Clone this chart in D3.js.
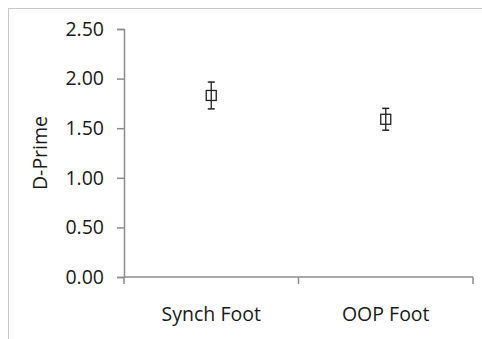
<!DOCTYPE html>
<html>
<head>
  <meta charset="utf-8">
  <style>
    body { margin: 0; background: #fff; }
    text { font-family: "Open Sans", Lato, sans-serif; fill: #1a1a1a; }
  </style>
</head>
<body>
  <script src="https://d3js.org/d3.v7.min.js"></script>
  <script>
    // chart data
    var categories = ["Synch Foot", "OOP Foot"];
    var means = [1.83, 1.59];
    var errors = [0.135, 0.11];
    var yTicks = [0, 0.5, 1, 1.5, 2, 2.5];

    var width = 482, height = 339;
    var margin = {top: 29, right: 9, bottom: 62, left: 124};
    var fontSize = "19.5px";

    var svg = d3.select("body").append("svg")
        .attr("width", width)
        .attr("height", height);

    // outer chart border
    svg.append("rect")
        .attr("x", 8.5).attr("y", 8.5)
        .attr("width", width).attr("height", height)
        .attr("fill", "none")
        .attr("stroke", "#c8c8c8");

    var g = svg.append("g")
        .attr("transform", "translate(" + margin.left + "," + margin.top + ")");

    var w = width - margin.left - margin.right;
    var h = height - margin.top - margin.bottom;

    var x = d3.scaleBand().domain(categories).range([0, w]);
    var y = d3.scaleLinear().domain([0, 2.5]).range([h, 0]);

    // y axis
    var yAxis = g.append("g")
        .call(d3.axisLeft(y).tickValues(yTicks).tickFormat(d3.format(".2f")).tickSize(7).tickPadding(13));
    yAxis.select(".domain").attr("stroke", "#8c8c8c").attr("stroke-width", 1.5);
    yAxis.selectAll(".tick line").attr("stroke", "#8c8c8c").attr("stroke-width", 1.5);
    yAxis.selectAll("text").style("font-size", fontSize).style("font-family", "'Open Sans', sans-serif").attr("fill", "#1a1a1a");

    // x axis with boundary ticks
    g.append("line")
        .attr("x1", 0).attr("x2", w)
        .attr("y1", h).attr("y2", h)
        .attr("stroke", "#8c8c8c").attr("stroke-width", 1.5);
    var bounds = [0].concat(categories.map(function(c) { return x(c) + x.bandwidth(); }));
    g.selectAll(".xtick").data(bounds).enter().append("line")
        .attr("x1", function(d) { return d; }).attr("x2", function(d) { return d; })
        .attr("y1", h).attr("y2", h + 7)
        .attr("stroke", "#8c8c8c").attr("stroke-width", 1.5);
    g.selectAll(".xlabel").data(categories).enter().append("text")
        .attr("x", function(d) { return x(d) + x.bandwidth() / 2; })
        .attr("y", h + 44)
        .attr("text-anchor", "middle")
        .style("font-size", fontSize)
        .text(function(d) { return d; });

    // y label
    g.append("text")
        .attr("transform", "rotate(-90)")
        .attr("x", -y(1.25))
        .attr("y", -77)
        .attr("text-anchor", "middle")
        .style("font-size", fontSize)
        .text("D-Prime");

    // error bars
    var pts = g.selectAll(".pt").data(categories).enter().append("g")
        .attr("transform", function(d) { return "translate(" + (x(d) + x.bandwidth() / 2) + ",0)"; });
    pts.append("line")
        .attr("y1", function(d, i) { return y(means[i] + errors[i]); })
        .attr("y2", function(d, i) { return y(means[i] - errors[i]); })
        .attr("stroke", "#222").attr("stroke-width", 1.3);
    pts.append("line")
        .attr("x1", -3.5).attr("x2", 3.5)
        .attr("y1", function(d, i) { return y(means[i] + errors[i]); })
        .attr("y2", function(d, i) { return y(means[i] + errors[i]); })
        .attr("stroke", "#222").attr("stroke-width", 1.5);
    pts.append("line")
        .attr("x1", -3.5).attr("x2", 3.5)
        .attr("y1", function(d, i) { return y(means[i] - errors[i]); })
        .attr("y2", function(d, i) { return y(means[i] - errors[i]); })
        .attr("stroke", "#222").attr("stroke-width", 1.5);
    pts.append("rect")
        .attr("x", -5)
        .attr("y", function(d, i) { return y(means[i]) - 5; })
        .attr("width", 10).attr("height", 10)
        .attr("fill", "none")
        .attr("stroke", "#222").attr("stroke-width", 1.3);
  </script>
</body>
</html>
